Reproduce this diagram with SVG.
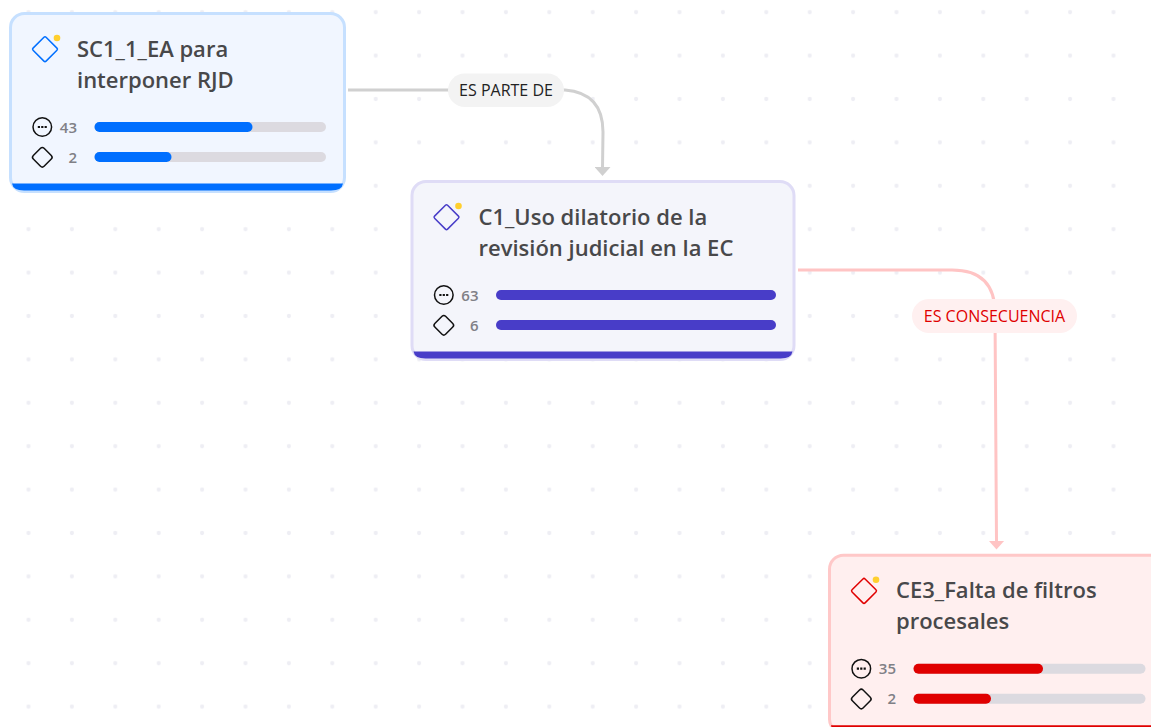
<svg xmlns="http://www.w3.org/2000/svg" width="1151" height="727" viewBox="0 0 1151 727">
<style>
text{font-family:"Open Sans","Noto Sans","Liberation Sans",sans-serif}
.title{font-size:22px;font-weight:600;fill:#48484a}
.num{font-size:15px;font-weight:600;fill:#808086;text-anchor:end}
.lbl{font-size:16px;text-anchor:middle}
.ic{fill:none;stroke:#111;stroke-width:1.500}
.track{fill:#dcdae0}
.link{fill:none;stroke-width:3}
</style>
<defs>
<pattern id="grid" x="28.500" y="12.200" width="43.400" height="43.400" patternUnits="userSpaceOnUse"><circle cx="0" cy="0" r="2.100" fill="#eeeef4"/><circle cx="43.400" cy="0" r="2.100" fill="#eeeef4"/><circle cx="0" cy="43.400" r="2.100" fill="#eeeef4"/><circle cx="43.400" cy="43.400" r="2.100" fill="#eeeef4"/></pattern>
<marker id="ag" markerUnits="userSpaceOnUse" markerWidth="16" markerHeight="9" refX="8" refY="1" orient="0" viewBox="0 0 16 9"><path d="M0 0H16L8 9Z" fill="#d0d0d0"/></marker>
<marker id="ar" markerUnits="userSpaceOnUse" markerWidth="16" markerHeight="9" refX="8" refY="1" orient="0" viewBox="0 0 16 9"><path d="M0 0H16L8 9Z" fill="#ffc4c4"/></marker>
<g id="stats"><circle cx="33.300" cy="115" r="9.300" class="ic"/><path d="M28.800 115h2.200M32.200 115h2.200M35.600 115h2.200" stroke="#111" stroke-width="2.200" fill="none"/><rect x="25.700" y="137.700" width="15.200" height="15.200" rx="2.500" transform="rotate(45 33.300 145.300)" class="ic"/></g>
<rect id="dia" x="26.800" y="28" width="18.400" height="18.400" rx="1.500" transform="rotate(45 36 37.200)" fill="none" stroke-width="1.500"/>
</defs>
<rect width="1151" height="727" fill="#fff"/>
<rect width="1151" height="727" fill="url(#grid)"/>
<g id="connectors">
<path class="link" stroke="#d0d0d0" d="M348 90H565Q603 93 603 132L602.500 168" marker-end="url(#ag)"/>
<path class="link" stroke="#ffc4c4" d="M798 270H952Q995 270 995 313L996.500 541.500" marker-end="url(#ar)"/>
<g id="label-parte"><rect x="448" y="73.500" width="116" height="33.500" rx="16.700" fill="#f3f3f3"/><text class="lbl" x="506" y="95.500" fill="#222">ES PARTE DE</text></g>
<g id="label-consecuencia"><rect x="912" y="299" width="165" height="34" rx="17" fill="#fff0f0"/><text class="lbl" x="994.500" y="321.500" fill="#e00000">ES CONSECUENCIA</text></g>
</g>
<g id="node-sc1" transform="translate(9 12)">
<rect x="1.500" y="1.500" width="334" height="178" rx="14" fill="#f1f6ff" stroke="#c6e0ff" stroke-width="3"/>
<path d="M3 171.500H334V171.500Q333 178.500 322 178.500H15Q4 178.500 3 171.500Z" fill="#006fff"/>
<use href="#dia" stroke="#006fff"/><circle cx="48" cy="26" r="3.300" fill="#ffcf2e"/>
<text class="title" x="68" y="45">SC1_1_EA para</text><text class="title" x="68" y="76">interponer RJD</text>
<use href="#stats"/>
<text class="num" x="68" y="121">43</text><text class="num" x="68" y="151">2</text>
<rect class="track" x="85.500" y="110" width="231.500" height="10" rx="5"/><rect x="85.500" y="110" width="158" height="10" rx="5" fill="#006fff"/>
<rect class="track" x="85.500" y="140" width="231.500" height="10" rx="5"/><rect x="85.500" y="140" width="77" height="10" rx="5" fill="#006fff"/>
</g>
<g id="node-c1" transform="translate(410.500 180)">
<rect x="1.500" y="1.500" width="382" height="178" rx="14" fill="#f4f5fb" stroke="#dfdcf6" stroke-width="3"/>
<path d="M3 171.500H382V171.500Q381 178.500 370 178.500H15Q4 178.500 3 171.500Z" fill="#483dc8"/>
<use href="#dia" stroke="#483dc8"/><circle cx="48" cy="26" r="3.300" fill="#ffcf2e"/>
<text class="title" x="68" y="44.500">C1_Uso dilatorio de la</text><text class="title" x="68" y="75.500">revisión judicial en la EC</text>
<use href="#stats"/>
<text class="num" x="68" y="120.500">63</text><text class="num" x="68" y="150.500">6</text>
<rect x="85.500" y="110" width="280" height="10" rx="5" fill="#483dc8"/>
<rect x="85.500" y="140" width="280" height="10" rx="5" fill="#483dc8"/>
</g>
<g id="node-ce3" transform="translate(828 553.700)">
<rect x="1.500" y="1.500" width="382" height="178" rx="14" fill="#ffefef" stroke="#ffc8c8" stroke-width="3"/>
<path d="M3 171.500H382V171.500Q381 178.500 370 178.500H15Q4 178.500 3 171.500Z" fill="#e00000"/>
<use href="#dia" stroke="#e00000"/><circle cx="48" cy="26" r="3.300" fill="#ffcf2e"/>
<text class="title" x="68" y="44.500">CE3_Falta de filtros</text><text class="title" x="68" y="75.500">procesales</text>
<use href="#stats"/>
<text class="num" x="68" y="120.500">35</text><text class="num" x="68" y="150.500">2</text>
<rect class="track" x="85.500" y="110" width="232" height="10" rx="5"/><rect x="85.500" y="110" width="129.500" height="10" rx="5" fill="#e00000"/>
<rect class="track" x="85.500" y="140" width="232" height="10" rx="5"/><rect x="85.500" y="140" width="77.500" height="10" rx="5" fill="#e00000"/>
</g>
</svg>
